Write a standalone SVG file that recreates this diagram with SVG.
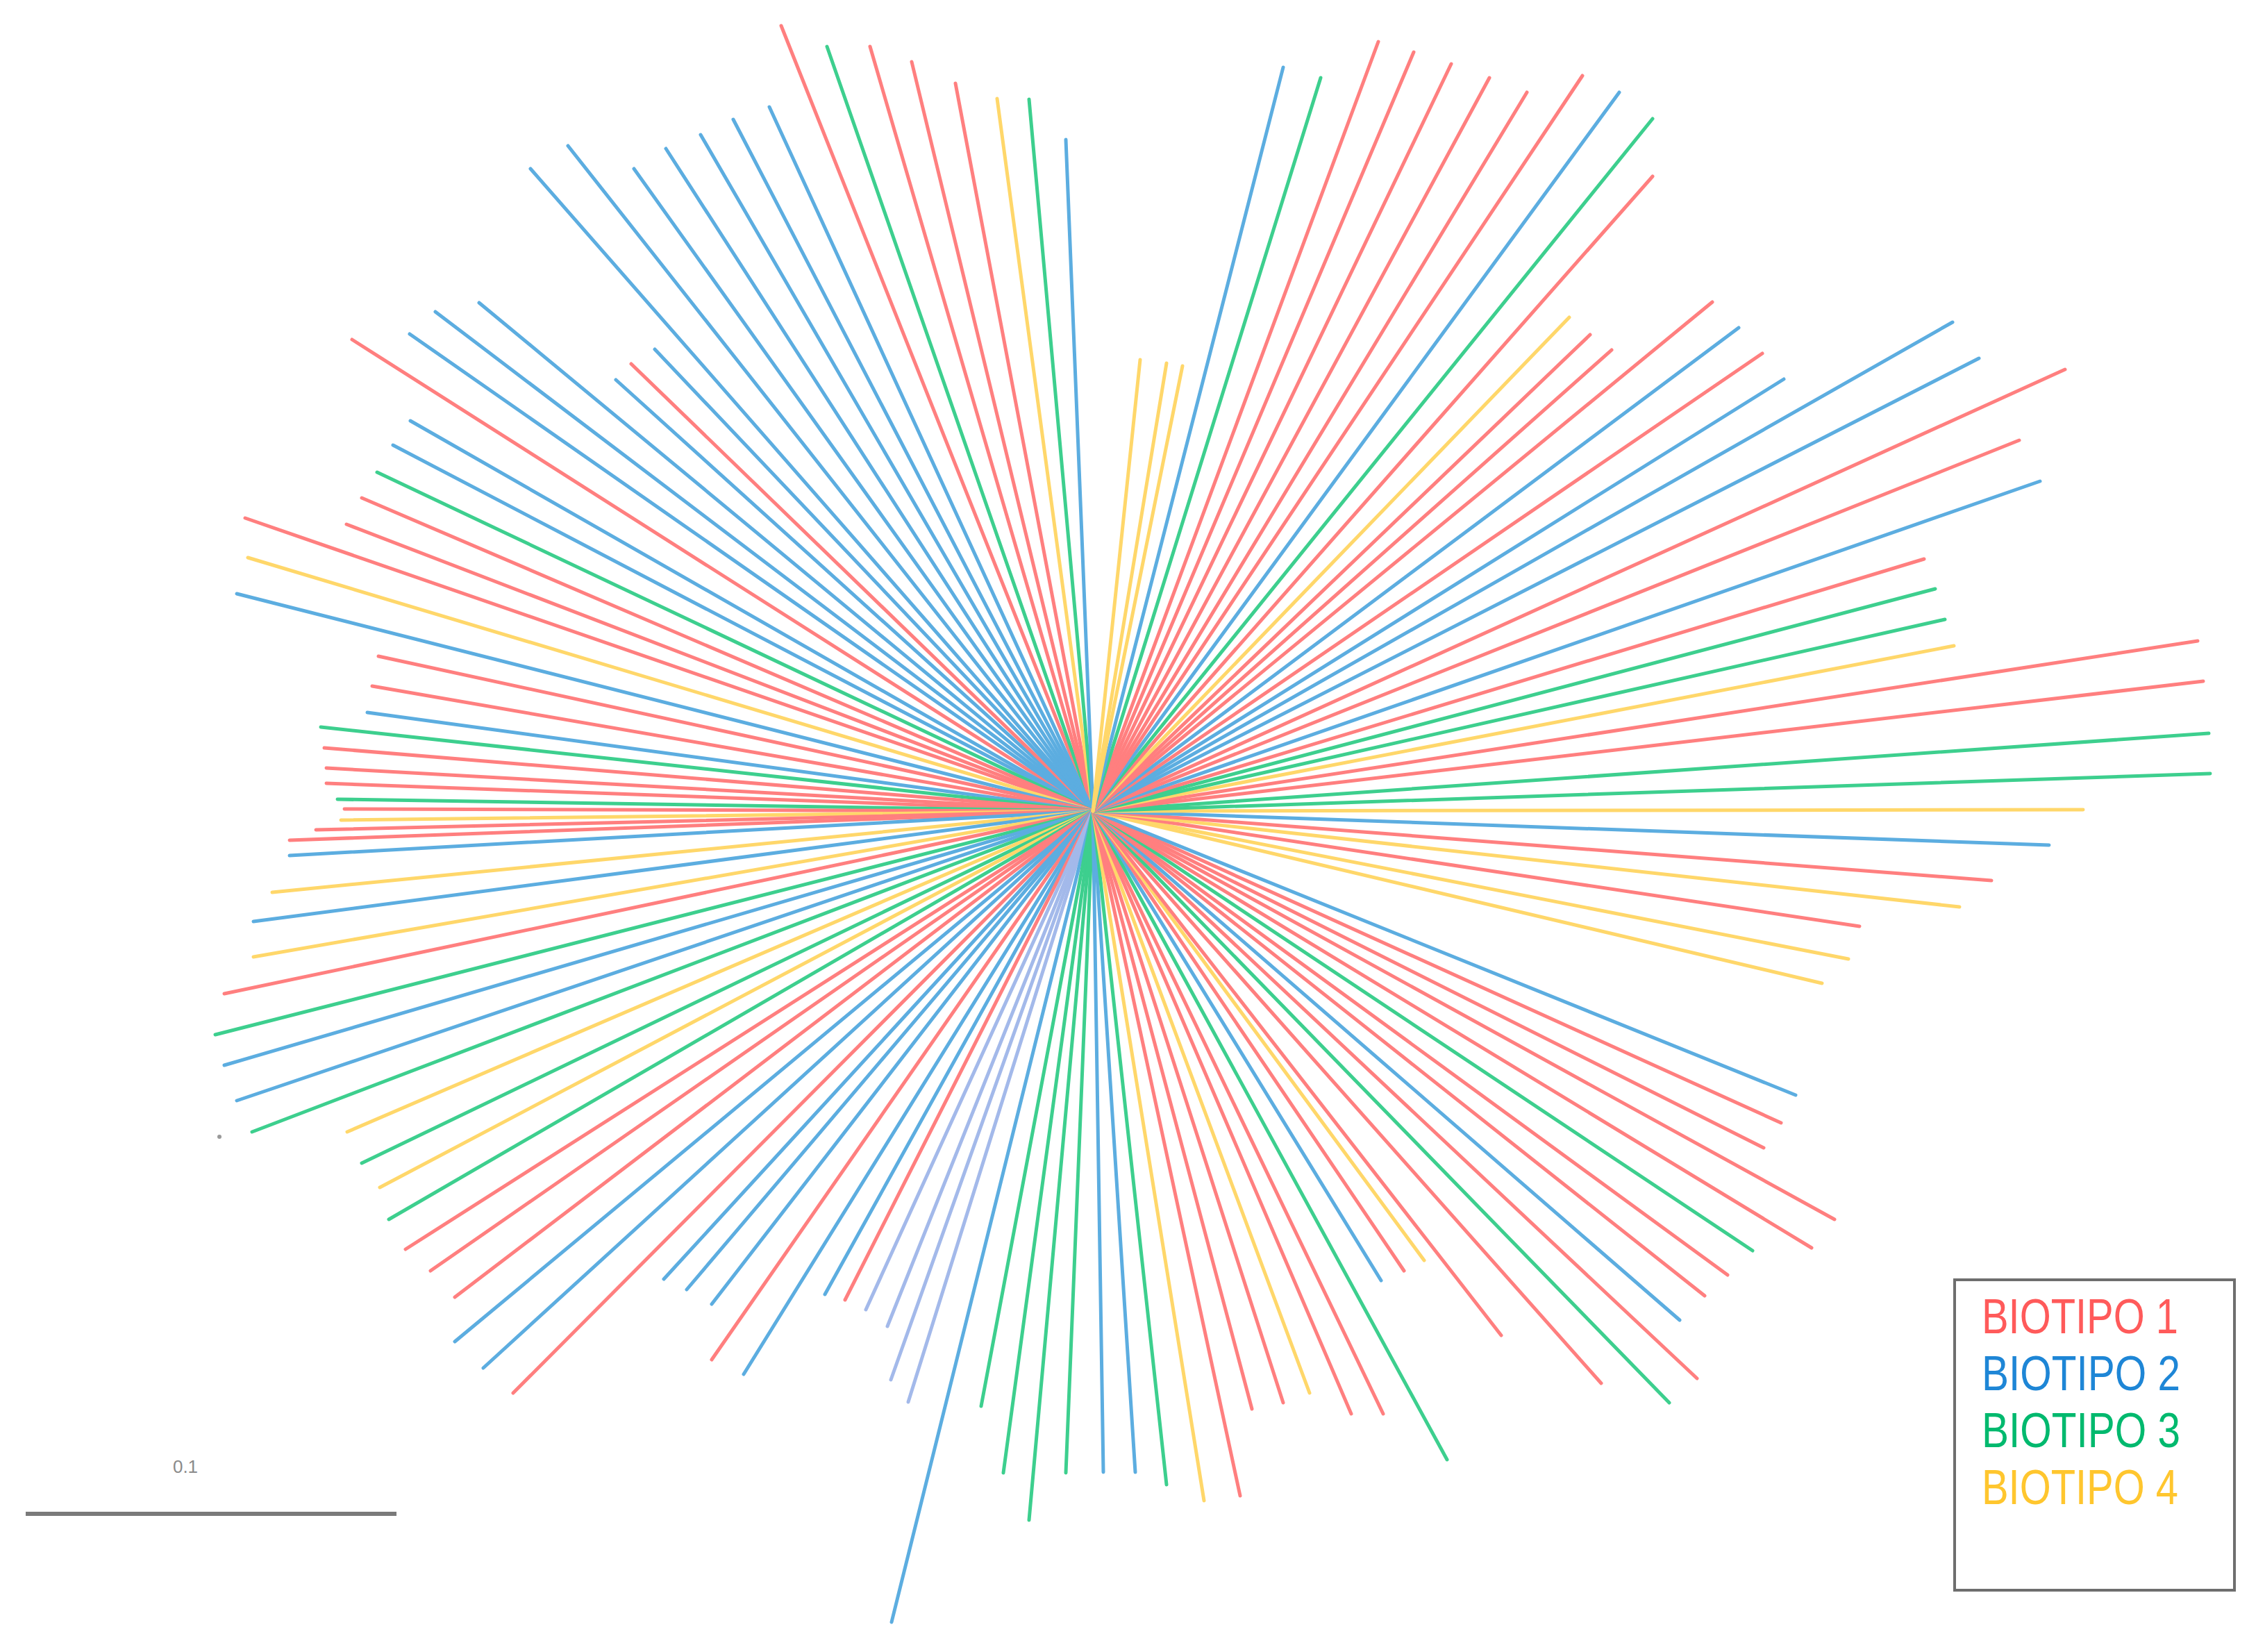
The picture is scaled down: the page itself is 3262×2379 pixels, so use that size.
<svg xmlns="http://www.w3.org/2000/svg" width="3262" height="2379" viewBox="0 0 3262 2379">
<style>
.b line{stroke-width:5;stroke-linecap:round;fill:none}
.r{stroke:#FF7F7F}.u{stroke:#5CADE0}.g{stroke:#3DCF8E}.y{stroke:#FFD76A}.l{stroke:#A3B9EA}
.lg{font-family:"Liberation Sans",Arial,sans-serif;font-size:70px}
</style>
<rect width="3262" height="2379" fill="#FFFFFF"/>
<g id="branches" class="b">
<line x1="1574" y1="1168" x2="1125" y2="37" class="r"/>
<line x1="1574" y1="1168" x2="1191" y2="67" class="g"/>
<line x1="1574" y1="1168" x2="1253" y2="67" class="r"/>
<line x1="1574" y1="1168" x2="1313" y2="89" class="r"/>
<line x1="1574" y1="1168" x2="1376" y2="120" class="r"/>
<line x1="1574" y1="1168" x2="1436" y2="142" class="y"/>
<line x1="1574" y1="1168" x2="1482" y2="143" class="g"/>
<line x1="1574" y1="1168" x2="1535" y2="201" class="u"/>
<line x1="1574" y1="1168" x2="764" y2="243" class="u"/>
<line x1="1574" y1="1168" x2="818" y2="210" class="u"/>
<line x1="1574" y1="1168" x2="913" y2="243" class="u"/>
<line x1="1574" y1="1168" x2="959" y2="214" class="u"/>
<line x1="1574" y1="1168" x2="1009" y2="194" class="u"/>
<line x1="1574" y1="1168" x2="1056" y2="172" class="u"/>
<line x1="1574" y1="1168" x2="1108" y2="154" class="u"/>
<line x1="1574" y1="1168" x2="507" y2="489" class="r"/>
<line x1="1574" y1="1168" x2="590" y2="481" class="u"/>
<line x1="1574" y1="1168" x2="627" y2="449" class="u"/>
<line x1="1574" y1="1168" x2="690" y2="436" class="u"/>
<line x1="1574" y1="1168" x2="887" y2="547" class="u"/>
<line x1="1574" y1="1168" x2="909" y2="524" class="r"/>
<line x1="1574" y1="1168" x2="943" y2="503" class="u"/>
<line x1="1574" y1="1168" x2="591" y2="606" class="u"/>
<line x1="1574" y1="1168" x2="566" y2="641" class="u"/>
<line x1="1574" y1="1168" x2="543" y2="680" class="g"/>
<line x1="1574" y1="1168" x2="521" y2="717" class="r"/>
<line x1="1574" y1="1168" x2="353" y2="746" class="r"/>
<line x1="1574" y1="1168" x2="499" y2="755" class="r"/>
<line x1="1574" y1="1168" x2="357" y2="803" class="y"/>
<line x1="1574" y1="1168" x2="341" y2="855" class="u"/>
<line x1="1574" y1="1168" x2="545" y2="945" class="r"/>
<line x1="1574" y1="1168" x2="536" y2="988" class="r"/>
<line x1="1574" y1="1168" x2="529" y2="1026" class="u"/>
<line x1="1574" y1="1168" x2="462" y2="1047" class="g"/>
<line x1="1574" y1="1168" x2="467" y2="1077" class="r"/>
<line x1="1574" y1="1168" x2="470" y2="1106" class="r"/>
<line x1="1574" y1="1168" x2="470" y2="1128" class="r"/>
<line x1="1574" y1="1168" x2="486" y2="1151" class="g"/>
<line x1="1574" y1="1168" x2="496" y2="1165" class="r"/>
<line x1="1574" y1="1168" x2="491" y2="1181" class="y"/>
<line x1="1574" y1="1168" x2="455" y2="1195" class="r"/>
<line x1="1574" y1="1168" x2="417" y2="1210" class="r"/>
<line x1="1574" y1="1168" x2="417" y2="1232" class="u"/>
<line x1="1574" y1="1168" x2="392" y2="1285" class="y"/>
<line x1="1574" y1="1168" x2="365" y2="1327" class="u"/>
<line x1="1574" y1="1168" x2="365" y2="1378" class="y"/>
<line x1="1574" y1="1168" x2="323" y2="1431" class="r"/>
<line x1="1574" y1="1168" x2="310" y2="1490" class="g"/>
<line x1="1574" y1="1168" x2="323" y2="1534" class="u"/>
<line x1="1574" y1="1168" x2="341" y2="1585" class="u"/>
<line x1="1574" y1="1168" x2="363" y2="1630" class="g"/>
<line x1="1574" y1="1168" x2="500" y2="1630" class="y"/>
<line x1="1574" y1="1168" x2="521" y2="1675" class="g"/>
<line x1="1574" y1="1168" x2="547" y2="1710" class="y"/>
<line x1="1574" y1="1168" x2="560" y2="1756" class="g"/>
<line x1="1574" y1="1168" x2="584" y2="1799" class="r"/>
<line x1="1574" y1="1168" x2="620" y2="1830" class="r"/>
<line x1="1574" y1="1168" x2="655" y2="1868" class="r"/>
<line x1="1574" y1="1168" x2="655" y2="1932" class="u"/>
<line x1="1574" y1="1168" x2="696" y2="1970" class="u"/>
<line x1="1574" y1="1168" x2="739" y2="2006" class="r"/>
<line x1="1574" y1="1168" x2="956" y2="1842" class="u"/>
<line x1="1574" y1="1168" x2="989" y2="1857" class="u"/>
<line x1="1574" y1="1168" x2="1025" y2="1878" class="u"/>
<line x1="1574" y1="1168" x2="1025" y2="1958" class="r"/>
<line x1="1574" y1="1168" x2="1071" y2="1979" class="u"/>
<line x1="1574" y1="1168" x2="1188" y2="1864" class="u"/>
<line x1="1574" y1="1168" x2="1217" y2="1872" class="r"/>
<line x1="1574" y1="1168" x2="1247" y2="1886" class="l"/>
<line x1="1574" y1="1168" x2="1278" y2="1910" class="l"/>
<line x1="1574" y1="1168" x2="1283" y2="1987" class="l"/>
<line x1="1574" y1="1168" x2="1308" y2="2019" class="l"/>
<line x1="1574" y1="1168" x2="1284" y2="2336" class="u"/>
<line x1="1574" y1="1168" x2="1413" y2="2025" class="g"/>
<line x1="1574" y1="1168" x2="1445" y2="2121" class="g"/>
<line x1="1574" y1="1168" x2="1482" y2="2189" class="g"/>
<line x1="1574" y1="1168" x2="1535" y2="2121" class="g"/>
<line x1="1574" y1="1168" x2="1589" y2="2120" class="u"/>
<line x1="1574" y1="1168" x2="1635" y2="2120" class="u"/>
<line x1="1574" y1="1168" x2="1680" y2="2138" class="g"/>
<line x1="1574" y1="1168" x2="1734" y2="2161" class="y"/>
<line x1="1574" y1="1168" x2="1786" y2="2154" class="r"/>
<line x1="1574" y1="1168" x2="1803" y2="2029" class="r"/>
<line x1="1574" y1="1168" x2="1848" y2="2020" class="r"/>
<line x1="1574" y1="1168" x2="1886" y2="2006" class="y"/>
<line x1="1574" y1="1168" x2="1946" y2="2036" class="r"/>
<line x1="1574" y1="1168" x2="1992" y2="2036" class="r"/>
<line x1="1574" y1="1168" x2="2084" y2="2102" class="g"/>
<line x1="1574" y1="1168" x2="1989" y2="1844" class="u"/>
<line x1="1574" y1="1168" x2="2022" y2="1830" class="r"/>
<line x1="1574" y1="1168" x2="2051" y2="1815" class="y"/>
<line x1="1574" y1="1168" x2="2162" y2="1923" class="r"/>
<line x1="1574" y1="1168" x2="2306" y2="1992" class="r"/>
<line x1="1574" y1="1168" x2="2404" y2="2020" class="g"/>
<line x1="1574" y1="1168" x2="2444" y2="1985" class="r"/>
<line x1="1574" y1="1168" x2="2419" y2="1901" class="u"/>
<line x1="1574" y1="1168" x2="2455" y2="1866" class="r"/>
<line x1="1574" y1="1168" x2="2488" y2="1836" class="r"/>
<line x1="1574" y1="1168" x2="2524" y2="1801" class="g"/>
<line x1="1574" y1="1168" x2="2609" y2="1797" class="r"/>
<line x1="1574" y1="1168" x2="2642" y2="1756" class="r"/>
<line x1="1574" y1="1168" x2="2540" y2="1653" class="r"/>
<line x1="1574" y1="1168" x2="2565" y2="1617" class="r"/>
<line x1="1574" y1="1168" x2="2586" y2="1577" class="u"/>
<line x1="1574" y1="1168" x2="2624" y2="1416" class="y"/>
<line x1="1574" y1="1168" x2="2662" y2="1381" class="y"/>
<line x1="1574" y1="1168" x2="2678" y2="1334" class="r"/>
<line x1="1574" y1="1168" x2="2822" y2="1306" class="y"/>
<line x1="1574" y1="1168" x2="2868" y2="1268" class="r"/>
<line x1="1574" y1="1168" x2="2951" y2="1217" class="u"/>
<line x1="1574" y1="1168" x2="3000" y2="1166" class="y"/>
<line x1="1574" y1="1168" x2="3183" y2="1114" class="g"/>
<line x1="1574" y1="1168" x2="3181" y2="1056" class="g"/>
<line x1="1574" y1="1168" x2="3173" y2="981" class="r"/>
<line x1="1574" y1="1168" x2="3165" y2="923" class="r"/>
<line x1="1574" y1="1168" x2="2814" y2="930" class="y"/>
<line x1="1574" y1="1168" x2="2801" y2="892" class="g"/>
<line x1="1574" y1="1168" x2="2787" y2="848" class="g"/>
<line x1="1574" y1="1168" x2="2771" y2="805" class="r"/>
<line x1="1574" y1="1168" x2="2938" y2="693" class="u"/>
<line x1="1574" y1="1168" x2="2908" y2="634" class="r"/>
<line x1="1574" y1="1168" x2="2974" y2="532" class="r"/>
<line x1="1574" y1="1168" x2="2850" y2="516" class="u"/>
<line x1="1574" y1="1168" x2="2812" y2="464" class="u"/>
<line x1="1574" y1="1168" x2="2569" y2="546" class="u"/>
<line x1="1574" y1="1168" x2="2538" y2="509" class="r"/>
<line x1="1574" y1="1168" x2="2504" y2="472" class="u"/>
<line x1="1574" y1="1168" x2="2466" y2="435" class="r"/>
<line x1="1574" y1="1168" x2="2321" y2="504" class="r"/>
<line x1="1574" y1="1168" x2="2290" y2="482" class="r"/>
<line x1="1574" y1="1168" x2="2260" y2="457" class="y"/>
<line x1="1574" y1="1168" x2="2380" y2="254" class="r"/>
<line x1="1574" y1="1168" x2="2380" y2="171" class="g"/>
<line x1="1574" y1="1168" x2="2332" y2="133" class="u"/>
<line x1="1574" y1="1168" x2="2279" y2="109" class="r"/>
<line x1="1574" y1="1168" x2="2199" y2="133" class="r"/>
<line x1="1574" y1="1168" x2="2145" y2="112" class="r"/>
<line x1="1574" y1="1168" x2="2090" y2="92" class="r"/>
<line x1="1574" y1="1168" x2="2036" y2="75" class="r"/>
<line x1="1574" y1="1168" x2="1985" y2="60" class="r"/>
<line x1="1574" y1="1168" x2="1902" y2="112" class="g"/>
<line x1="1574" y1="1168" x2="1848" y2="97" class="u"/>
<line x1="1574" y1="1168" x2="1703" y2="527" class="y"/>
<line x1="1574" y1="1168" x2="1680" y2="523" class="y"/>
<line x1="1574" y1="1168" x2="1642" y2="518" class="y"/>
</g>
<circle id="speck" cx="316" cy="1637" r="3" fill="#999999"/>
<g id="scale-bar">
<line x1="37" y1="2180" x2="571" y2="2180" stroke="#7A7A7A" stroke-width="6"/>
<text x="267" y="2121" font-family="Liberation Sans, Arial, sans-serif" font-size="26" fill="#8A8A8A" text-anchor="middle">0.1</text>
</g>
<g id="legend">
<rect x="2815" y="1843" width="403" height="447" fill="#FFFFFF" stroke="#6E6E6E" stroke-width="4"/>
<text class="lg" x="2854" y="1920" fill="#FF5A5A" textLength="283" lengthAdjust="spacingAndGlyphs">BIOTIPO 1</text>
<text class="lg" x="2854" y="2002" fill="#1E86D6" textLength="286" lengthAdjust="spacingAndGlyphs">BIOTIPO 2</text>
<text class="lg" x="2854" y="2084" fill="#00B96E" textLength="286" lengthAdjust="spacingAndGlyphs">BIOTIPO 3</text>
<text class="lg" x="2854" y="2166" fill="#FFC62E" textLength="283" lengthAdjust="spacingAndGlyphs">BIOTIPO 4</text>
</g>
</svg>
